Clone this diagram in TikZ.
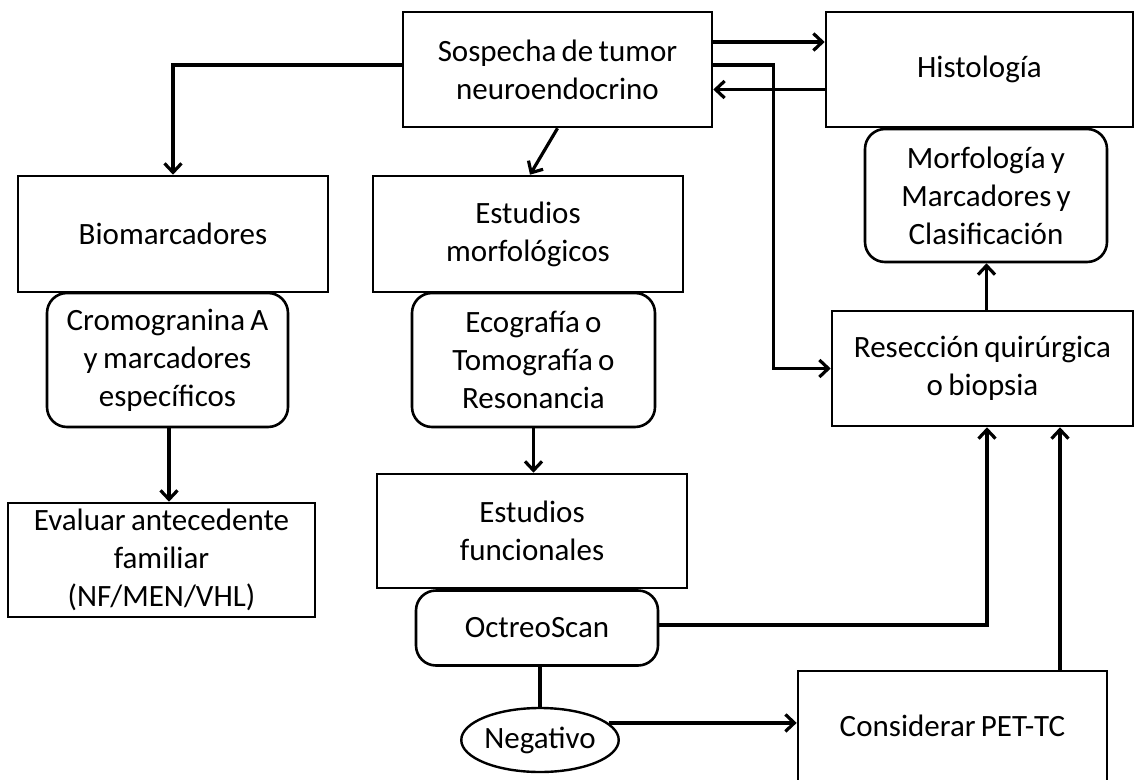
\documentclass[tikz,border=0pt]{standalone}
\usepackage{fontspec}
\setmainfont{Carlito}[WordSpace=0.75]
\usetikzlibrary{arrows.meta,shapes.geometric}

\tikzset{
  box/.style={draw, line width=2.6pt, rectangle, inner sep=0pt, align=center,
    font=\fontsize{31}{38}\selectfont},
  rbox/.style={box, rounded corners=20pt},
  oval/.style={draw, line width=2.4pt, ellipse, inner sep=0pt, align=center,
    font=\fontsize{31}{38}\selectfont},
  link/.style={line width=3.2pt},
  arr/.style={link, -{Straight Barb[length=9pt,width=17pt,line width=3.2pt]}},
}

\begin{document}
\begin{tikzpicture}[x=1pt,y=-1pt]
\useasboundingbox (0,0) rectangle (1135,779);

% top row
\node[box, minimum width=309pt, minimum height=115pt] (sos) at (557.5,69.5)
  {Sospecha de tumor\\neuroendocrino};
\node[box, minimum width=307pt, minimum height=115pt] (hist) at (979.5,69.5)
  {Histología};

% right column
\node[rbox, minimum width=242pt, minimum height=133pt] (morf) at (986,195.5)
  {Morfología y\\Marcadores y\\Clasificación};
\node[box, minimum width=301pt, minimum height=115pt] (res) at (982.5,368.5)
  {Resección quirúrgica\\o biopsia};
\node[box, minimum width=309pt, minimum height=110pt] (pet) at (952.5,726)
  {Considerar PET-TC};

% left column
\node[box, minimum width=310pt, minimum height=116pt] (bio) at (173,234)
  {Biomarcadores};
\node[rbox, minimum width=241pt, minimum height=134pt] (crom) at (167.5,360)
  {Cromogranina A\\y marcadores\\específicos};
\node[box, minimum width=307pt, minimum height=114pt] (eval) at (161.5,560)
  {Evaluar antecedente\\familiar\\(NF/MEN/VHL)};

% middle column
\node[box, minimum width=310pt, minimum height=116pt] (estm) at (528,234)
  {Estudios\\morfológicos};
\node[rbox, minimum width=243pt, minimum height=134pt] (eco) at (533.5,360)
  {Ecografía o\\Tomografía o\\Resonancia};
\node[box, minimum width=310pt, minimum height=114pt] (estf) at (532,531)
  {Estudios\\funcionales};
\node[rbox, minimum width=242pt, minimum height=75pt] (oct) at (537,628)
  {OctreoScan};
\node[oval, minimum width=156pt, minimum height=64pt] (neg) at (540,740)
  {Negativo};

% connectors
\draw[arr] ([yshift=27.5pt]sos.east) -- ([yshift=27.5pt]sos.east -| hist.west);
\draw[arr] ([yshift=-20pt]hist.west) -- ([yshift=-20pt]hist.west -| sos.east);
\draw[arr] ([yshift=4.5pt]sos.east) -- ++(60,0) |- (res.west);
\draw[arr] ([xshift=4pt]res.north) -- ([xshift=4pt]res.north |- morf.south);
\draw[arr] ([yshift=4.5pt]sos.west) -| (bio.north);
\draw[arr] (sos.south) -- ([xshift=2pt]estm.north);
\draw[arr] ([xshift=1.5pt]crom.south) -- ([xshift=1.5pt]crom.south |- eval.north);
\draw[arr] (eco.south) -- (eco.south |- estf.north);
\draw[arr] ([yshift=3pt]oct.east) -| ([xshift=4.5pt]res.south);
\draw[arr] ([xshift=107.5pt]pet.north) -- ([xshift=107.5pt]pet.north |- res.south);
\draw[link] (neg.north |- oct.south) -- (neg.north);
\draw[arr] (neg.14) -- (neg.14 -| pet.west);
\end{tikzpicture}
\end{document}
